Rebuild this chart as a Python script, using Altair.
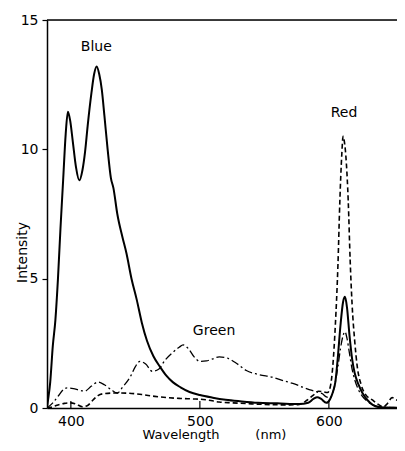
import altair as alt
import pandas as pd

# Blue (solid)
blue_nm = [381.5, 382, 384, 386, 388, 390, 392, 394, 396, 397.7, 399.5, 401.5, 404, 406.5, 409, 411, 413, 416, 418, 420,
           422, 424, 426, 428.5, 431, 433, 436, 440, 443, 447, 451, 455, 459, 464, 469, 474, 479, 485, 492, 500,
           510, 520, 531, 545, 560, 577, 584, 588, 591, 594, 598, 601, 603, 605, 607, 609, 611, 612.5, 614, 616,
           618, 620, 623, 626, 630, 634, 638, 645, 659]
blue_int = [0.0, 0.2, 1.0, 2.4, 3.4, 5.0, 7.0, 8.8, 10.6, 11.45, 11.1, 10.3, 9.3, 8.8, 9.2, 9.9, 10.9, 12.2, 12.9, 13.2,
            12.9, 12.3, 11.3, 10.0, 8.9, 8.5, 7.5, 6.6, 6.0, 5.0, 4.2, 3.3, 2.6, 2.0, 1.6, 1.25, 1.0, 0.8, 0.62, 0.5,
            0.4, 0.32, 0.26, 0.2, 0.18, 0.15, 0.2, 0.35, 0.42, 0.35, 0.2, 0.35, 0.6, 1.0, 2.0, 3.2, 4.1, 4.3, 3.9, 2.8,
            1.9, 1.35, 0.9, 0.58, 0.3, 0.12, 0.04, 0.02, 0.0]

# Red (dashed)
red_nm = [381.5, 386, 390, 395, 400, 404, 409, 413, 417, 421, 425, 435, 445, 455, 465, 475, 485, 495, 500, 507,
          515, 525, 540, 555, 570, 577, 583, 588, 592, 596, 599, 601, 603, 605, 607, 608.5, 610, 611, 612, 613.5,
          615, 616.5, 618, 620, 622, 625, 628, 634, 638, 642, 645, 649, 653, 657, 659]
red_int = [0.0, 0.05, 0.12, 0.18, 0.2, 0.15, 0.05, 0.1, 0.3, 0.48, 0.55, 0.58, 0.57, 0.52, 0.45, 0.4, 0.37, 0.35, 0.34, 0.3,
           0.23, 0.2, 0.16, 0.13, 0.12, 0.14, 0.3, 0.5, 0.65, 0.62, 0.6, 0.8, 1.6, 3.2, 5.5, 8.0, 9.8, 10.5, 10.3, 9.5,
           8.0, 5.7, 4.0, 2.6, 1.6, 0.9, 0.55, 0.3, 0.15, 0.05, 0.15, 0.4, 0.3, 0.15, 0.08]

# Green (dash-dot)
green_nm = [381.5, 386, 390, 394, 397, 402, 407, 411, 416, 421, 426, 431, 436, 440, 446, 450, 453.5, 458, 463, 468,
            473, 479, 484, 487, 491, 496, 500, 505, 510, 515, 520, 528, 536, 545, 557, 565, 572, 580, 587, 591,
            595, 598, 601, 603, 605, 607, 609, 611, 612.5, 614, 616, 618, 620, 623, 626, 630, 635, 640, 650, 659]
green_int = [0.0, 0.2, 0.45, 0.7, 0.78, 0.75, 0.68, 0.66, 0.85, 1.0, 0.9, 0.72, 0.58, 0.8, 1.2, 1.6, 1.8, 1.7, 1.42, 1.5,
             1.85, 2.15, 2.35, 2.44, 2.3, 1.95, 1.8, 1.82, 1.9, 1.98, 1.95, 1.74, 1.45, 1.3, 1.18, 1.05, 0.95, 0.8, 0.68, 0.62,
             0.55, 0.43, 0.4, 0.6, 1.0, 1.6, 2.3, 2.8, 2.95, 2.7, 2.1, 1.5, 1.1, 0.7, 0.45, 0.25, 0.1, 0.05, 0.02, 0.0]

label_text = ["Blue", "Green", "Red"]
label_nm = [419.7, 511, 611.7]
label_int = [13.95, 2.98, 11.4]

x_ticks = [400, 500, 600]
y_ticks = [0, 5, 10, 15]

FONT = "DejaVu Sans"
W, H = 350, 388
xs = alt.Scale(domain=[381.5, 652.8], nice=False, zero=False)
ys = alt.Scale(domain=[0, 15], nice=False)

def series(nm, it, dash, width):
    df = pd.DataFrame({"nm": nm, "v": it})
    m = alt.Chart(df).mark_line(color="black", strokeWidth=width, interpolate="monotone", clip=True,
                                **({"strokeDash": dash} if dash else {}))
    return m.encode(
        x=alt.X("nm:Q", scale=xs,
                axis=alt.Axis(values=x_ticks, format="d", ticks=False, labelPadding=6, labelFontSize=14,
                              labelFont=FONT, labelColor="black", domainColor="black", domainWidth=1.5,
                              grid=False, title=None)),
        y=alt.Y("v:Q", scale=ys,
                axis=alt.Axis(values=y_ticks, tickSize=5, tickColor="black", tickWidth=1.2, labelPadding=4,
                              labelFontSize=14, labelFont=FONT, labelColor="black", domainColor="black",
                              domainWidth=1.5, grid=False, title="Intensity", titleFont=FONT, titleFontSize=14,
                              titleFontWeight="normal", titleColor="black", titleX=-25, titleY=232,
                              titleAngle=270, titleBaseline="middle", titleAlign="center")),
    )

blue = series(blue_nm, blue_int, None, 2)
red = series(red_nm, red_int, [5, 3], 1.6)
green = series(green_nm, green_int, [8, 3, 2, 3], 1.3)

labels = alt.Chart(pd.DataFrame({"t": label_text, "nm": label_nm, "v": label_int})).mark_text(
    font=FONT, fontSize=14, color="black", baseline="middle", align="center"
).encode(x=alt.X("nm:Q", scale=xs), y=alt.Y("v:Q", scale=ys), text="t:N")

titles = alt.Chart(pd.DataFrame({"t": ["Wavelength", "(nm)"], "nm": [485.4, 555]})).mark_text(
    font=FONT, fontSize=13, color="black", baseline="middle", align="center"
).encode(x=alt.X("nm:Q", scale=xs), y=alt.value(H + 27), text="t:N")

xtick = alt.Chart(pd.DataFrame({"nm": x_ticks})).mark_rule(color="black", strokeWidth=1.2).encode(
    x=alt.X("nm:Q", scale=xs), y=alt.value(H), y2=alt.value(H - 7))

top = alt.Chart(pd.DataFrame({"a": [0]})).mark_rule(color="black", strokeWidth=1.5).encode(
    x=alt.value(0), x2=alt.value(W), y=alt.value(0))

chart = alt.layer(blue, red, green, labels, titles, xtick, top).properties(
    width=W, height=H,
    autosize=alt.AutoSizeParams(type="none"),
    padding={"left": 39, "top": 12, "right": 0, "bottom": 35},
).configure_view(stroke=None).configure(background="white")

chart.save("out.html", embed_options={"renderer": "svg", "actions": False})
